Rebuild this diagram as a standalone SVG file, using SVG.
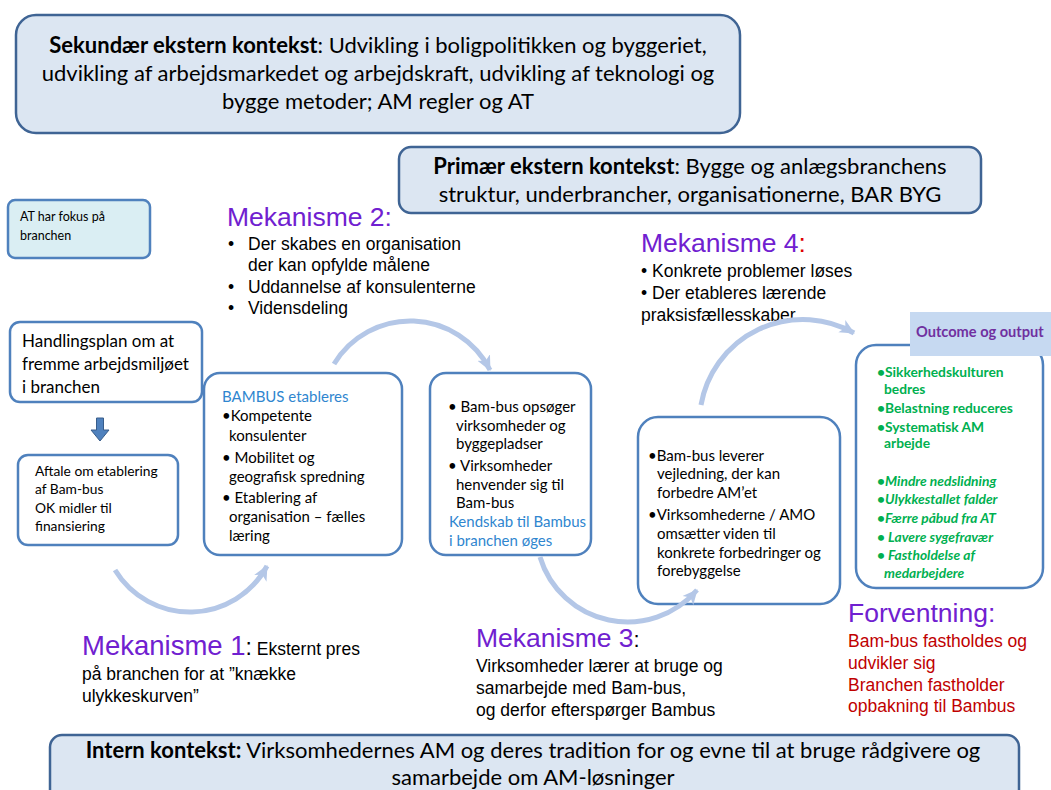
<svg xmlns="http://www.w3.org/2000/svg" width="1051" height="790" viewBox="0 0 1051 790">
<style>
.ctx{fill:#dce6f2;stroke:#3f6494;stroke-width:2.5}
.node{fill:#ffffff;stroke:#4f81bd;stroke-width:2.5}
.cal{font-family:Lato,"Liberation Sans",sans-serif;fill:#000}
.ar{font-family:"Liberation Sans",Arial,sans-serif;fill:#000}
.big{font-size:26.5px;fill:#7020d0}
.b17{font-size:17.5px}
.blue{fill:#2f86cf}
.grn{fill:#00b050;font-weight:bold;font-size:13.8px}
.red{fill:#c00000}
.hdr{fill:#7030a0;font-weight:bold;font-size:14.6px}
.arc{fill:none;stroke:#b4c7e7;stroke-width:5}
</style>
<defs>
<marker id="ah" markerUnits="userSpaceOnUse" markerWidth="16" markerHeight="16" viewBox="0 0 16 16" refX="14" refY="8" orient="auto">
<path d="M0,1 L15,8 L0,15 L4,8 z" fill="#b4c7e7"/>
</marker>
</defs>
<rect width="1051" height="790" fill="#fff"/>

<g id="sekundaer">
<rect class="ctx" x="16" y="15" width="724" height="118" rx="20"/>
<text class="cal" font-size="22" text-anchor="middle"><tspan x="378" y="53"><tspan font-weight="bold">Sekundær ekstern kontekst</tspan>: Udvikling i boligpolitikken og byggeriet,</tspan><tspan x="378" y="81">udvikling af arbejdsmarkedet og arbejdskraft, udvikling af teknologi og</tspan><tspan x="378" y="109">bygge metoder; AM regler og AT</tspan></text>
</g>

<g id="primaer">
<rect class="ctx" x="399" y="147" width="582" height="66" rx="12"/>
<text class="cal" font-size="22" text-anchor="middle"><tspan x="690" y="174"><tspan font-weight="bold">Primær ekstern kontekst</tspan>: Bygge og anlægsbranchens</tspan><tspan x="690" y="202">struktur, underbrancher, organisationerne, BAR BYG</tspan></text>
</g>

<g id="at-fokus">
<rect x="8" y="200" width="142" height="58" rx="7" fill="#daeef3" stroke="#4f81bd" stroke-width="2.5"/>
<text class="cal" font-size="12.5"><tspan x="20" y="221">AT har fokus på</tspan><tspan x="20" y="240">branchen</tspan></text>
</g>

<g id="handlingsplan">
<rect class="node" x="10" y="322" width="192" height="80" rx="10"/>
<text class="cal" font-size="17"><tspan x="22" y="347">Handlingsplan om at</tspan><tspan x="22" y="370">fremme arbejdsmiljøet</tspan><tspan x="22" y="393">i branchen</tspan></text>
</g>

<g id="pil-ned">
<path d="M96.5,418 H103.5 V430 H109 L100,441 L91,430 H96.5 Z" fill="#4f81bd" stroke="#385d8a" stroke-width="1"/>
</g>

<g id="aftale">
<rect class="node" x="18" y="455" width="160" height="90" rx="10"/>
<text class="cal" font-size="13.8"><tspan x="35" y="476">Aftale om etablering</tspan><tspan x="35" y="494">af Bam-bus</tspan><tspan x="35" y="513">OK midler til</tspan><tspan x="35" y="531">finansiering</tspan></text>
</g>

<g id="bambus-etableres">
<rect class="node" x="204" y="373" width="198" height="182" rx="16"/>
<text class="cal" font-size="15"><tspan class="blue" x="222" y="402">BAMBUS etableres</tspan><tspan x="222" y="421">•Kompetente</tspan><tspan x="229" y="441">konsulenter</tspan><tspan x="222" y="463">• Mobilitet og</tspan><tspan x="229" y="482">geografisk spredning</tspan><tspan x="222" y="503">• Etablering af</tspan><tspan x="229" y="522">organisation – fælles</tspan><tspan x="229" y="541">læring</tspan></text>
</g>

<g id="bambus-opsoeger">
<rect class="node" x="430" y="373" width="161" height="182" rx="16"/>
<text class="cal" font-size="15"><tspan x="448" y="412">• Bam-bus opsøger</tspan><tspan x="456" y="431">virksomheder og</tspan><tspan x="456" y="449">byggepladser</tspan><tspan x="448" y="471">• Virksomheder</tspan><tspan x="456" y="490">henvender sig til</tspan><tspan x="456" y="508">Bam-bus</tspan><tspan class="blue" x="449" y="527">Kendskab til Bambus</tspan><tspan class="blue" x="449" y="546">i branchen øges</tspan></text>
</g>

<g id="bambus-leverer">
<rect class="node" x="638" y="417" width="202" height="187" rx="20"/>
<text class="cal" font-size="15"><tspan x="648" y="461">•Bam-bus leverer</tspan><tspan x="657" y="479">vejledning, der kan</tspan><tspan x="657" y="498">forbedre AM’et</tspan><tspan x="648" y="520">•Virksomhederne / AMO</tspan><tspan x="657" y="539">omsætter viden til</tspan><tspan x="657" y="558">konkrete forbedringer og</tspan><tspan x="657" y="576">forebyggelse</tspan></text>
</g>

<g id="outcome">
<rect class="node" x="856" y="345" width="187" height="243" rx="20"/>
<rect x="910" y="312" width="141" height="44" fill="#c6d9f1"/>
<text class="cal hdr" x="916" y="337">Outcome og output</text>
<text class="cal grn"><tspan x="877" y="377">•Sikkerhedskulturen</tspan><tspan x="884" y="394">bedres</tspan><tspan x="877" y="413">•Belastning reduceres</tspan><tspan x="877" y="432">•Systematisk AM</tspan><tspan x="884" y="448">arbejde</tspan></text>
<text class="cal grn" font-style="italic"><tspan x="877" y="486">•Mindre nedslidning</tspan><tspan x="877" y="504">•Ulykkestallet falder</tspan><tspan x="877" y="523">•Færre påbud fra AT</tspan><tspan x="877" y="542">• Lavere sygefravær</tspan><tspan x="877" y="560">• Fastholdelse af</tspan><tspan x="884" y="578">medarbejdere</tspan></text>
</g>

<g id="mekanisme2">
<text class="ar big" x="227" y="226">Mekanisme 2:</text>
<text class="ar b17"><tspan x="228" y="250">•</tspan><tspan x="248" y="250">Der skabes en organisation</tspan><tspan x="248" y="271">der kan opfylde målene</tspan><tspan x="228" y="293">•</tspan><tspan x="248" y="293">Uddannelse af konsulenterne</tspan><tspan x="228" y="314">•</tspan><tspan x="248" y="314">Vidensdeling</tspan></text>
</g>

<g id="mekanisme4">
<text class="ar big" x="641" y="252">Mekanisme 4<tspan fill="#e00000">:</tspan></text>
<text class="ar b17"><tspan x="641" y="277">• Konkrete problemer løses</tspan><tspan x="641" y="299">• Der etableres lærende</tspan><tspan x="641" y="321">praksisfællesskaber</tspan></text>
</g>

<g id="mekanisme1">
<text class="ar" x="82" y="655"><tspan class="big" style="font-size:27.5px">Mekanisme 1</tspan><tspan font-size="23">:</tspan><tspan class="b17"> Eksternt pres</tspan></text>
<text class="ar b17"><tspan x="82" y="680">på branchen for at ”knække</tspan><tspan x="82" y="702">ulykkeskurven”</tspan></text>
</g>

<g id="mekanisme3">
<text class="ar" x="476" y="647"><tspan class="big">Mekanisme 3</tspan><tspan font-size="22">:</tspan></text>
<text class="ar b17"><tspan x="476" y="672">Virksomheder lærer at bruge og</tspan><tspan x="476" y="694">samarbejde med Bam-bus,</tspan><tspan x="476" y="716">og derfor efterspørger Bambus</tspan></text>
</g>

<g id="forventning">
<text class="ar big" x="848" y="622">Forventning:</text>
<text class="ar b17 red"><tspan x="848" y="647">Bam-bus fastholdes og</tspan><tspan x="848" y="669">udvikler sig</tspan><tspan x="848" y="691">Branchen fastholder</tspan><tspan x="848" y="712">opbakning til Bambus</tspan></text>
</g>

<g id="intern">
<rect class="ctx" x="50" y="735" width="969" height="80" rx="12"/>
<text class="cal" font-size="22" text-anchor="middle"><tspan x="533" y="758"><tspan font-weight="bold">Intern kontekst:</tspan> Virksomhedernes AM og deres tradition for og evne til at bruge rådgivere og</tspan><tspan x="533" y="785">samarbejde om AM-løsninger</tspan></text>
</g>

<g id="connectors">
<path class="arc" d="M115,570 A87.7,87.7 0 0 0 267,566" marker-end="url(#ah)"/>
<path class="arc" d="M334,364 A89.2,89.2 0 0 1 490,370" marker-end="url(#ah)"/>
<path class="arc" d="M540,557 A91.4,91.4 0 0 0 697,590" marker-end="url(#ah)"/>
<path class="arc" d="M701,405 A103.4,103.4 0 0 1 854,333" marker-end="url(#ah)"/>
</g>
</svg>
